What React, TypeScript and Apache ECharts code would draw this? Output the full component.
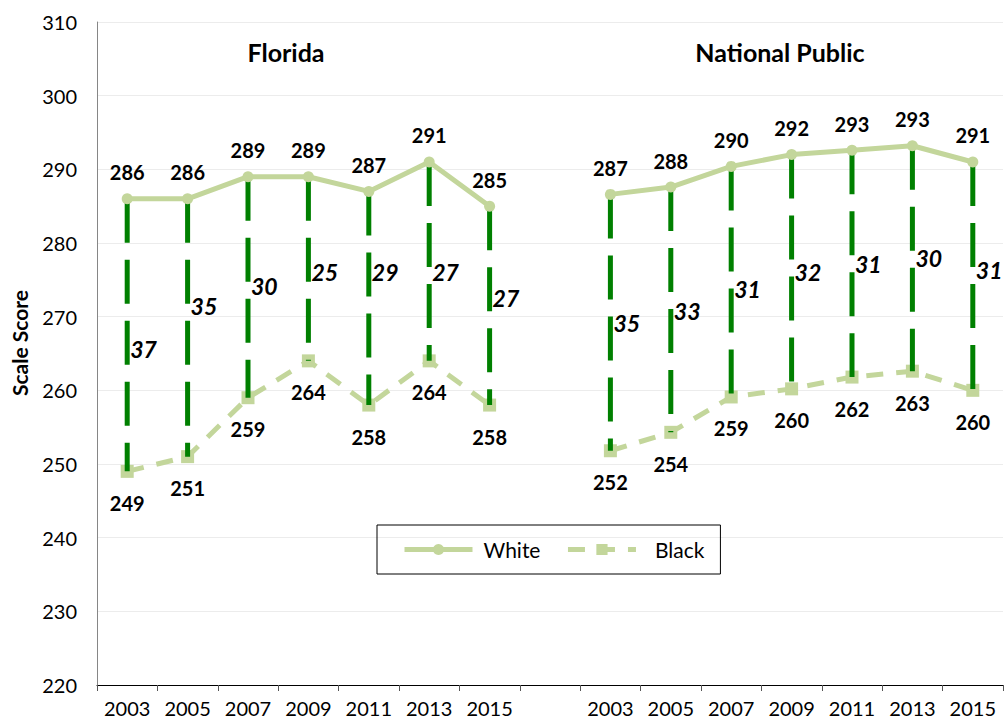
import React, { useEffect, useRef } from "react";
import * as echarts from "echarts";

// ---- data ----
const categories = [
  "2003", "2005", "2007", "2009", "2011", "2013", "2015",
  "",
  "2003", "2005", "2007", "2009", "2011", "2013", "2015",
];
const floridaWhite = [286, 286, 289, 289, 287, 291, 285];
const floridaBlack = [249, 251, 259, 264, 258, 264, 258];
const nationalWhite = [286.6, 287.6, 290.4, 292.0, 292.6, 293.2, 291.0];
const nationalBlack = [251.8, 254.3, 259.1, 260.2, 261.8, 262.6, 260.0];
const floridaGap = [37, 35, 30, 25, 29, 27, 27];
const nationalGap = [35, 33, 31, 32, 31, 30, 31];
// scale-score level at which each gap label sits
const floridaGapLabelAt = [265.6, 271.4, 274.1, 276.1, 276.1, 276.1, 272.5];
const nationalGapLabelAt = [269.1, 270.8, 273.8, 276.0, 277.1, 277.9, 276.4];
const yTicks = { min: 220, max: 310, interval: 10 };
const panelTitles = ["Florida", "National Public"];

const FONT = "Lato, 'Liberation Sans', sans-serif";
const LIGHT = "#c3d69b";
const DARK = "#008000";

export default function App() {
  const ref = useRef<HTMLDivElement>(null);

  useEffect(() => {
    if (!ref.current) return;
    const chart = echarts.init(ref.current, undefined, { renderer: "svg" });

    const white = [...floridaWhite, null, ...nationalWhite];
    const black = [...floridaBlack, null, ...nationalBlack];
    const gaps = [...floridaGap, null, ...nationalGap];
    const gapAt = [...floridaGapLabelAt, null, ...nationalGapLabelAt];

    const gapLines: any[] = [];
    const gapLabels: any[] = [];
    white.forEach((w, i) => {
      if (w == null || black[i] == null) return;
      gapLines.push([i, w, black[i]]);
      gapLabels.push({ value: [i, gapAt[i]], gap: gaps[i] });
    });

    chart.setOption({
      animation: false,
      backgroundColor: "#ffffff",
      textStyle: { fontFamily: FONT },
      grid: { left: 97, right: 1, top: 22, bottom: 36 },
      xAxis: {
        type: "category",
        data: categories,
        boundaryGap: true,
        axisLine: { lineStyle: { color: "#000", width: 1 } },
        axisTick: { show: true, alignWithLabel: false, length: 6, lineStyle: { color: "#555" } },
        axisLabel: { interval: 0, color: "#000", fontSize: 20, margin: 13, fontFamily: FONT },
        splitLine: { show: false },
      },
      yAxis: {
        type: "value",
        min: yTicks.min,
        max: yTicks.max,
        interval: yTicks.interval,
        axisLine: { show: true, lineStyle: { color: "#868686", width: 1 } },
        axisTick: { show: false },
        axisLabel: { color: "#000", fontSize: 20, margin: 20, fontFamily: FONT },
        splitLine: { show: true, lineStyle: { color: "#ececec", width: 1 } },
      },
      legend: {
        left: 377,
        top: 525,
        orient: "horizontal",
        data: [
          { name: "White", textStyle: { padding: [0, 0, 0, 6] } },
          { name: "Black", textStyle: { padding: [0, 0, 0, 14] } },
        ],
        itemWidth: 68,
        itemHeight: 14,
        itemGap: 25,
        lineStyle: { width: 5 },
        borderColor: "#000",
        borderWidth: 1,
        borderRadius: 0,
        padding: [14, 16, 14, 25],
        textStyle: { color: "#000", fontSize: 21, fontFamily: FONT },
      },
      series: [
        {
          name: "Black",
          type: "line",
          data: black,
          z: 2,
          symbol: "rect",
          symbolSize: 13,
          connectNulls: false,
          itemStyle: { color: LIGHT },
          lineStyle: { color: LIGHT, width: 5, type: [17, 13] },
          label: {
            show: true,
            position: "bottom",
            distance: 15,
            color: "#000",
            fontWeight: "bold",
            fontSize: 20,
            fontFamily: FONT,
            formatter: (p: any) => String(Math.round(p.value)),
          },
        },
        {
          name: "gaps",
          type: "custom",
          z: 3,
          data: gapLines,
          encode: { x: 0, y: [1, 2] },
          renderItem: (params: any, api: any) => {
            const idx = api.value(0);
            const p1 = api.coord([idx, api.value(1)]);
            const p2 = api.coord([idx, api.value(2)]);
            return {
              type: "line",
              shape: { x1: p1[0], y1: p1[1], x2: p2[0], y2: p2[1] },
              style: { stroke: DARK, lineWidth: 5, lineDash: [44, 17], fill: null },
            };
          },
          silent: true,
        },
        {
          name: "White",
          type: "line",
          data: white,
          z: 4,
          symbol: "circle",
          symbolSize: 11,
          connectNulls: false,
          itemStyle: { color: LIGHT },
          lineStyle: { color: LIGHT, width: 5 },
          label: {
            show: true,
            position: "top",
            distance: 11,
            color: "#000",
            fontWeight: "bold",
            fontSize: 20,
            fontFamily: FONT,
            formatter: (p: any) => String(Math.round(p.value)),
          },
        },
        {
          name: "gapLabels",
          type: "scatter",
          z: 5,
          symbolSize: 0,
          itemStyle: { opacity: 1 },
          data: gapLabels,
          silent: true,
          label: {
            show: true,
            position: "right",
            distance: 3,
            color: "#000",
            fontWeight: "bold",
            fontStyle: "italic",
            fontSize: 23,
            fontFamily: FONT,
            formatter: (p: any) => String(p.data.gap),
          },
        },
      ],
      graphic: [
        {
          type: "text",
          x: 286,
          y: 52,
          style: {
            text: panelTitles[0],
            font: `bold 25px ${FONT}`,
            fill: "#000",
            align: "center",
            verticalAlign: "middle",
          },
        },
        {
          type: "text",
          x: 780,
          y: 52,
          style: {
            text: panelTitles[1],
            font: `bold 25px ${FONT}`,
            fill: "#000",
            align: "center",
            verticalAlign: "middle",
          },
        },
        {
          type: "text",
          x: 19,
          y: 343,
          rotation: Math.PI / 2,
          style: {
            text: "Scale Score",
            font: `bold 21px ${FONT}`,
            fill: "#000",
            align: "center",
            verticalAlign: "middle",
          },
        },
      ],
    });

    return () => chart.dispose();
  }, []);

  return (
    <div
      ref={ref}
      style={{ position: "fixed", left: 0, top: 0, width: 1004, height: 721, background: "#fff" }}
    />
  );
}
